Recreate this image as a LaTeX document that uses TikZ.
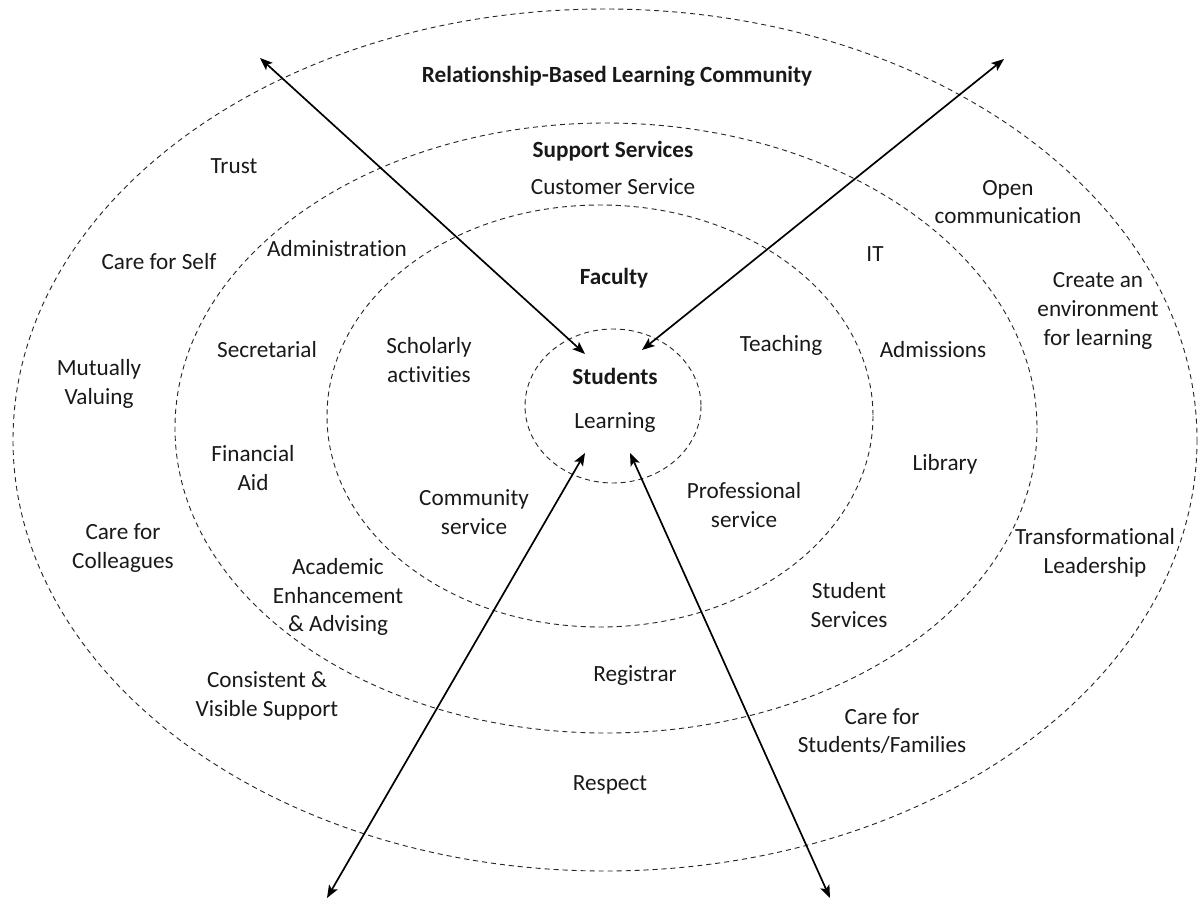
\documentclass[tikz,border=0pt]{standalone}
\usepackage{fontspec}
\setmainfont[Ligatures=NoCommon]{Carlito}
\usetikzlibrary{arrows.meta}

\tikzset{
  ring/.style={dash pattern=on 3.6pt off 2.8pt, line width=0.65pt, black!85},
  lbl/.style={align=center, inner sep=0pt, text=black!90,
    font=\fontsize{16.5}{20.3}\selectfont},
  ttl/.style={lbl, font=\fontsize{16.5}{20.3}\selectfont\bfseries},
  link/.style={{Stealth[length=9pt,width=7pt,inset=2pt]}-{Stealth[length=9pt,width=7pt,inset=2pt]},
    line width=1.2pt},
}

\begin{document}
\begin{tikzpicture}[x=0.025cm, y=-0.025cm, line join=round]
  \useasboundingbox (0,0) rectangle (1198,900);

  % rings, outermost first
  \draw[ring] (605,440) ellipse [x radius=592, y radius=431];
  \draw[ring] (606,428) ellipse [x radius=431, y radius=305];
  \draw[ring] (600,416) ellipse [x radius=273, y radius=211];
  \draw[ring] (613,406) ellipse [x radius=88, y radius=77];

  % community ring
  \node[ttl] (community) at (617,76) {Relationship-Based Learning Community};
  \node[lbl] (trust) at (234,166) {Trust};
  \node[lbl] (open) at (1008,202) {Open\\communication};
  \node[lbl] (self) at (159,262) {Care for Self};
  \node[lbl] (env) at (1098,311) {Create an\\environment\\for learning};
  \node[lbl] (mutual) at (99,384) {Mutually\\Valuing};
  \node[lbl] (colleagues) at (123,548) {Care for\\Colleagues};
  \node[lbl] (leader) at (1095,553) {Transformational\\Leadership};
  \node[lbl] (visible) at (267,696) {Consistent \&\\Visible Support};
  \node[lbl] (families) at (882,731) {Care for\\Students/Families};
  \node[lbl] (respect) at (610,785) {Respect};

  % support ring
  \node[ttl] (support) at (613,151) {Support Services};
  \node[lbl] (customer) at (613,187) {Customer Service};
  \node[lbl] (admin) at (337,249) {Administration};
  \node[lbl] (it) at (875,254) {IT};
  \node[lbl] (secretarial) at (267,350) {Secretarial};
  \node[lbl] (admissions) at (933,350) {Admissions};
  \node[lbl] (aid) at (253,468) {Financial\\Aid};
  \node[lbl] (library) at (945,464) {Library};
  \node[lbl] (advising) at (338,597) {Academic\\Enhancement\\\& Advising};
  \node[lbl] (services) at (849,605) {Student\\Services};
  \node[lbl] (registrar) at (635,676) {Registrar};

  % faculty ring
  \node[ttl] (faculty) at (614,278) {Faculty};
  \node[lbl] (scholar) at (429,360) {Scholarly\\activities};
  \node[lbl] (teaching) at (781,345) {Teaching};
  \node[lbl] (commserv) at (474,512) {Community\\service};
  \node[lbl] (profserv) at (744,505) {Professional\\service};

  % centre
  \node[ttl] (students) at (615,376) {Students};
  \node[lbl] (learning) at (615,423) {Learning};

  % arrow ends
  \coordinate (nwout) at (260,58);
  \coordinate (nwin) at (585,354);
  \coordinate (neout) at (1004,59);
  \coordinate (nein) at (642,350);
  \coordinate (swout) at (327,898);
  \coordinate (swin) at (585,453);
  \coordinate (seout) at (830,898);
  \coordinate (sein) at (630,453);

  \draw[link] (nwout) -- (nwin);
  \draw[link] (neout) -- (nein);
  \draw[link] (swout) -- (swin);
  \draw[link] (seout) -- (sein);
\end{tikzpicture}
\end{document}
